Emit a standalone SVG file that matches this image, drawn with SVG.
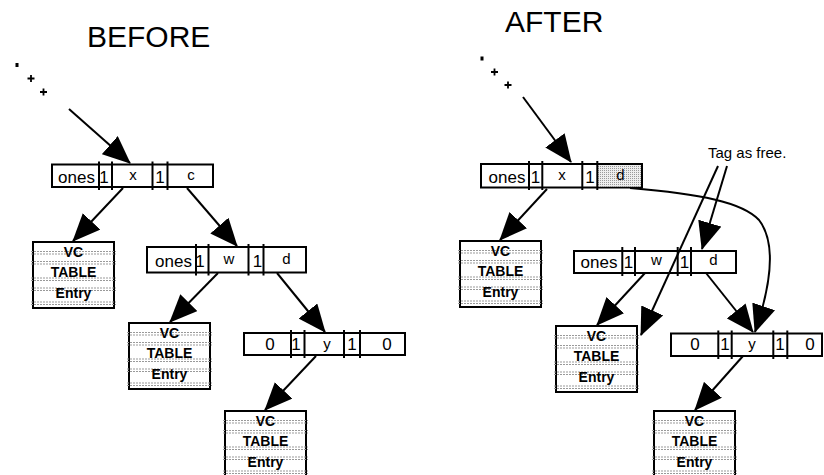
<svg xmlns="http://www.w3.org/2000/svg" width="824" height="475" viewBox="0 0 824 475">
<defs>
<style>
.title{font-family:"Liberation Sans",Arial,sans-serif;font-size:30px;fill:#000}
.lbl{font-family:"Liberation Sans",Arial,sans-serif;font-size:17px;fill:#000;text-anchor:middle}
.sm{font-family:"Liberation Sans",Arial,sans-serif;font-size:15px;fill:#000;text-anchor:middle}
.vct{font-family:"Liberation Sans",Arial,sans-serif;font-size:14px;font-weight:bold;fill:#000;text-anchor:middle}
.note{font-family:"Liberation Sans",Arial,sans-serif;font-size:15px;fill:#000}
.box{fill:#fff;stroke:#000;stroke-width:2}
.div{stroke:#000;stroke-width:2}
.dash{stroke:#999;stroke-width:1.2;stroke-dasharray:2 1}
.conn{fill:none;stroke:#000;stroke-width:2}
</style>
<marker id="ah" markerUnits="userSpaceOnUse" viewBox="0 0 28 24" markerWidth="28" markerHeight="24" refX="27" refY="12" orient="auto">
<path d="M0,0 L28,12 L0,24 Z" fill="#000"/>
</marker>
<pattern id="stip" width="2" height="2" patternUnits="userSpaceOnUse">
<rect width="2" height="2" fill="#eeeeee"/>
<rect width="1" height="1" fill="#9a9a9a"/>
</pattern>
<g id="vcframe">
<rect class="box" x="0" y="0" width="81" height="66"/>
<line class="dash" x1="-2" y1="9.5" x2="83" y2="9.5"/>
<line class="dash" x1="-2" y1="12" x2="83" y2="12"/>
<line class="dash" x1="-2" y1="19.5" x2="83" y2="19.5"/>
<line class="dash" x1="-2" y1="22" x2="83" y2="22"/>
<line class="dash" x1="-2" y1="36" x2="83" y2="36"/>
<line class="dash" x1="-2" y1="38.5" x2="83" y2="38.5"/>
<line class="dash" x1="-2" y1="46" x2="83" y2="46"/>
<line class="dash" x1="-2" y1="48.5" x2="83" y2="48.5"/>
<line class="dash" x1="-2" y1="60" x2="83" y2="60"/>
<line class="dash" x1="-2" y1="62.5" x2="83" y2="62.5"/>
</g>
</defs>
<rect width="824" height="475" fill="#fff"/>

<text class="title" x="87" y="47">BEFORE</text>
<text class="title" x="505" y="32">AFTER</text>

<!-- ellipsis dots -->
<g id="dots-left" fill="#000">
<rect x="15.5" y="63" width="3" height="4"/>
<path d="M27.5,78.5 h7 M31,75 v7" stroke="#000" stroke-width="1.8"/>
<path d="M40,92 h7 M43.5,88.5 v7" stroke="#000" stroke-width="1.8"/>
</g>
<g id="dots-right" fill="#000">
<rect x="480.5" y="56.5" width="3" height="4"/>
<path d="M491,72 h7 M494.5,68.5 v7" stroke="#000" stroke-width="1.8"/>
<path d="M504.5,85 h7 M508,81.5 v7" stroke="#000" stroke-width="1.8"/>
</g>

<!-- BEFORE nodes -->
<g id="b-root">
<rect class="box" x="52" y="164.5" width="161" height="22.5"/>
<line class="div" x1="99" y1="161.5" x2="99" y2="190"/>
<line class="div" x1="112" y1="161.5" x2="112" y2="190"/>
<line class="div" x1="152.5" y1="161.5" x2="152.5" y2="190"/>
<line class="div" x1="167.5" y1="161.5" x2="167.5" y2="190"/>
<text class="lbl" x="76.5" y="182.5">ones</text>
<text class="lbl" x="104" y="182.5">1</text>
<text class="sm" x="133" y="180">x</text>
<text class="lbl" x="160" y="182.5">1</text>
<text class="sm" x="191" y="180">c</text>
</g>
<g id="b-w">
<rect class="box" x="147" y="247" width="159" height="25.5"/>
<line class="div" x1="196" y1="244" x2="196" y2="275.5"/>
<line class="div" x1="208.5" y1="244" x2="208.5" y2="275.5"/>
<line class="div" x1="248.5" y1="244" x2="248.5" y2="275.5"/>
<line class="div" x1="263.5" y1="244" x2="263.5" y2="275.5"/>
<text class="lbl" x="173.5" y="267">ones</text>
<text class="lbl" x="200" y="267">1</text>
<text class="sm" x="229" y="264">w</text>
<text class="lbl" x="257.5" y="267">1</text>
<text class="sm" x="286.5" y="264">d</text>
</g>
<g id="b-y">
<rect class="box" x="244" y="333" width="161" height="22"/>
<line class="div" x1="291" y1="330" x2="291" y2="358"/>
<line class="div" x1="304.5" y1="330" x2="304.5" y2="358"/>
<line class="div" x1="344" y1="330" x2="344" y2="358"/>
<line class="div" x1="360" y1="330" x2="360" y2="358"/>
<text class="lbl" x="270" y="349.5">0</text>
<text class="lbl" x="296" y="349.5">1</text>
<text class="sm" x="327" y="348.5">y</text>
<text class="lbl" x="352" y="349.5">1</text>
<text class="lbl" x="387" y="349.5">0</text>
</g>
<g id="b-vc1" transform="translate(33,242)">
<use href="#vcframe"/>
<text class="vct" x="40.5" y="15">VC</text>
<text class="vct" x="40.5" y="35">TABLE</text>
<text class="vct" x="40.5" y="55.5">Entry</text>
</g>
<g id="b-vc2" transform="translate(129,323)">
<use href="#vcframe"/>
<text class="vct" x="40.5" y="15">VC</text>
<text class="vct" x="40.5" y="35">TABLE</text>
<text class="vct" x="40.5" y="55.5">Entry</text>
</g>
<g id="b-vc3" transform="translate(225,411)">
<use href="#vcframe"/>
<text class="vct" x="40.5" y="15">VC</text>
<text class="vct" x="40.5" y="35">TABLE</text>
<text class="vct" x="40.5" y="55.5">Entry</text>
</g>

<!-- AFTER nodes -->
<g id="a-root">
<rect class="box" x="481" y="164" width="161" height="23.5"/>
<rect x="597.3" y="165" width="43.7" height="21.5" fill="url(#stip)"/>
<line class="div" x1="529" y1="161" x2="529" y2="190"/>
<line class="div" x1="542.3" y1="161" x2="542.3" y2="190"/>
<line class="div" x1="582.3" y1="161" x2="582.3" y2="190"/>
<line class="div" x1="597.3" y1="161" x2="597.3" y2="190"/>
<text class="lbl" x="507" y="182.5">ones</text>
<text class="lbl" x="535.5" y="182.5">1</text>
<text class="sm" x="562" y="180">x</text>
<text class="lbl" x="590" y="182.5">1</text>
<text class="sm" x="620.5" y="180">d</text>
</g>
<g id="a-w">
<rect class="box" x="574" y="251" width="162" height="22"/>
<line class="div" x1="622.3" y1="247" x2="622.3" y2="276"/>
<line class="div" x1="635" y1="247" x2="635" y2="276"/>
<line class="div" x1="677.7" y1="247" x2="677.7" y2="276"/>
<line class="div" x1="691" y1="247" x2="691" y2="276"/>
<text class="lbl" x="599" y="268">ones</text>
<text class="lbl" x="628.5" y="268">1</text>
<text class="sm" x="656.5" y="265">w</text>
<text class="lbl" x="684.5" y="268">1</text>
<text class="sm" x="713.5" y="265">d</text>
</g>
<g id="a-y">
<rect class="box" x="671" y="333.5" width="151" height="22.5"/>
<line class="div" x1="718.3" y1="330.5" x2="718.3" y2="359"/>
<line class="div" x1="731.7" y1="330.5" x2="731.7" y2="359"/>
<line class="div" x1="773.3" y1="330.5" x2="773.3" y2="359"/>
<line class="div" x1="787.3" y1="330.5" x2="787.3" y2="359"/>
<text class="lbl" x="695" y="350">0</text>
<text class="lbl" x="725" y="350">1</text>
<text class="sm" x="752" y="349">y</text>
<text class="lbl" x="780" y="350">1</text>
<text class="lbl" x="810" y="350">0</text>
</g>
<g id="a-vc1" transform="translate(460,241)">
<use href="#vcframe"/>
<text class="vct" x="40.5" y="15">VC</text>
<text class="vct" x="40.5" y="35">TABLE</text>
<text class="vct" x="40.5" y="55.5">Entry</text>
</g>
<g id="a-vc2" transform="translate(556,326)">
<use href="#vcframe"/>
<text class="vct" x="40.5" y="15">VC</text>
<text class="vct" x="40.5" y="35">TABLE</text>
<text class="vct" x="40.5" y="55.5">Entry</text>
</g>
<g id="a-vc3" transform="translate(654,411)">
<use href="#vcframe"/>
<text class="vct" x="40.5" y="15">VC</text>
<text class="vct" x="40.5" y="35">TABLE</text>
<text class="vct" x="40.5" y="55.5">Entry</text>
</g>
<g id="note">
<text class="note" x="708" y="158">Tag as free.</text>
</g>

<!-- connectors -->
<g id="connectors">
<line class="conn" x1="69" y1="109" x2="130" y2="163" marker-end="url(#ah)"/>
<line class="conn" x1="123" y1="188" x2="73" y2="241" marker-end="url(#ah)"/>
<line class="conn" x1="187" y1="188" x2="237" y2="246" marker-end="url(#ah)"/>
<line class="conn" x1="218" y1="273" x2="170" y2="322" marker-end="url(#ah)"/>
<line class="conn" x1="277" y1="273" x2="325" y2="332" marker-end="url(#ah)"/>
<line class="conn" x1="316" y1="356" x2="265" y2="410" marker-end="url(#ah)"/>

<line class="conn" x1="523" y1="97" x2="571" y2="162" marker-end="url(#ah)"/>
<line class="conn" x1="547" y1="189" x2="500" y2="240" marker-end="url(#ah)"/>
<path class="conn" d="M630,188 C700,194 742,202 759,220 C776,242 772,282 755,332" marker-end="url(#ah)"/>
<line class="conn" x1="645" y1="273" x2="597" y2="325" marker-end="url(#ah)"/>
<line class="conn" x1="706" y1="273" x2="753" y2="332" marker-end="url(#ah)"/>
<line class="conn" x1="743" y1="356" x2="695" y2="410" marker-end="url(#ah)"/>
<line class="conn" x1="718" y1="166" x2="641" y2="335" marker-end="url(#ah)"/>
<line class="conn" x1="727" y1="166" x2="702" y2="249" marker-end="url(#ah)"/>
</g>
</svg>
